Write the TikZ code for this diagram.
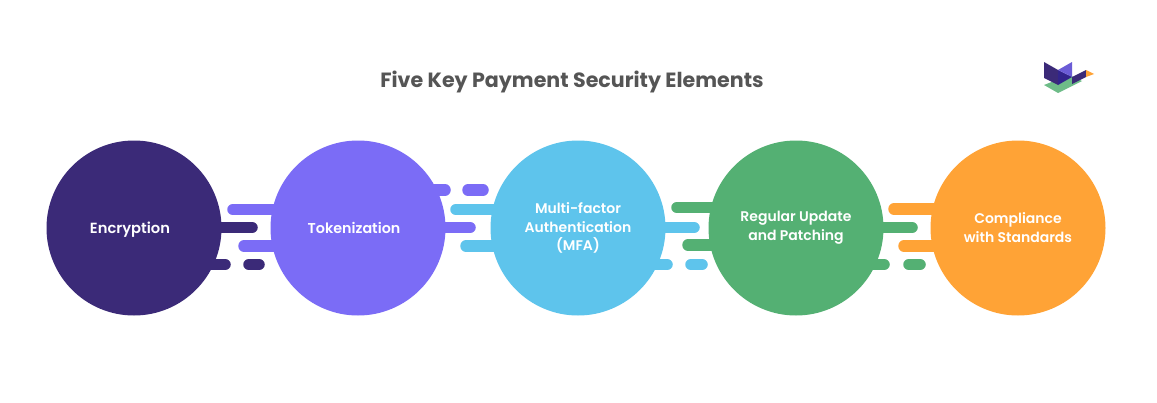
\documentclass[tikz,border=0pt]{standalone}
\usepackage{fontspec}
\setmainfont{Poppins}[BoldFont={Poppins SemiBold}]
\newfontfamily\titlefont{Poppins}[UprightFont={* Bold}]
\definecolor{cA}{HTML}{3B2A78}
\definecolor{cB}{HTML}{7B6CF6}
\definecolor{cC}{HTML}{5EC4EC}
\definecolor{cD}{HTML}{54B073}
\definecolor{cE}{HTML}{FFA336}
\definecolor{ttl}{HTML}{555555}
\tikzset{
  x=1pt,y=-1pt,
  disc/.style={circle,minimum size=175pt,inner sep=0pt,text=white,align=center,font=\fontsize{14}{18.6}\selectfont\bfseries},
  bar/.style={line width=11.5pt,line cap=round}
}
\begin{document}
\begin{tikzpicture}
\useasboundingbox (0,0) rectangle (1157,402);
\fill[white] (0,0) rectangle (1157,402);
% bars behind the discs
\draw[bar,cB] (233,209.5) -- (290,209.5);
\draw[bar,cA] (200,227.5) -- (252,227.5);
\draw[bar,cB] (244,246) -- (290,246);
\draw[bar,cA] (200,264.5) -- (225,264.5);
\draw[bar,cA] (249,264.5) -- (259,264.5);
\draw[bar,cB] (430,190) -- (445,190);
\draw[bar,cB] (468,190) -- (483,190);
\draw[bar,cC] (456,209.5) -- (510,209.5);
\draw[bar,cB] (430,227.5) -- (470,227.5);
\draw[bar,cC] (466,246) -- (510,246);
\draw[bar,cD] (677,207.5) -- (730,207.5);
\draw[bar,cC] (640,227.5) -- (694,227.5);
\draw[bar,cD] (688,245) -- (730,245);
\draw[bar,cC] (640,264.5) -- (667,264.5);
\draw[bar,cC] (691,264.5) -- (702,264.5);
\draw[bar,cE] (894,209) -- (950,209);
\draw[bar,cD] (860,227.5) -- (912,227.5);
\draw[bar,cE] (904,246) -- (950,246);
\draw[bar,cD] (860,264.5) -- (884,264.5);
\draw[bar,cD] (909,264.5) -- (920,264.5);
% discs
\node[disc,fill=cA] (n1) at (134,228) {\raisebox{-5pt}[0pt][0pt]{\fontsize{14.7}{18.6}\selectfont Encryption}\kern8pt};
\node[disc,fill=cB] (n2) at (358,228) {{\fontsize{14.3}{18.6}\selectfont Tokenization}\kern8pt};
\node[disc,fill=cC] (n3) at (578,228) {Multi-factor\\Authentication\\(MFA)};
\node[disc,fill=cD] (n4) at (796,228) {Regular Update\\and Patching};
\node[disc,fill=cE] (n5) at (1018,228) {\raisebox{1pt}{Compliance}\\\raisebox{1pt}{with Standards}};
\node[font=\fontsize{20.6}{24}\titlefont,text=ttl] (title) at (572,81.5) {Five Key Payment Security Elements};
% logo
\fill[cD!85!white] (1044,85) -- (1058,93) -- (1082,81) -- (1069,75) -- cycle;
\fill[cA] (1044,62) -- (1058,70) -- (1058,85) -- (1044,78) -- cycle;
\fill[cA!85!blue] (1058,70) -- (1072,77) -- (1058,85) -- cycle;
\fill[cB!75!cA] (1058,70) -- (1072,62) -- (1072,77) -- cycle;
\fill[cA] (1072,77) -- (1086,70) -- (1086,77) -- (1072,84) -- cycle;
\fill[cE] (1086,70) -- (1094,74) -- (1086,77) -- cycle;
\end{tikzpicture}
\end{document}
